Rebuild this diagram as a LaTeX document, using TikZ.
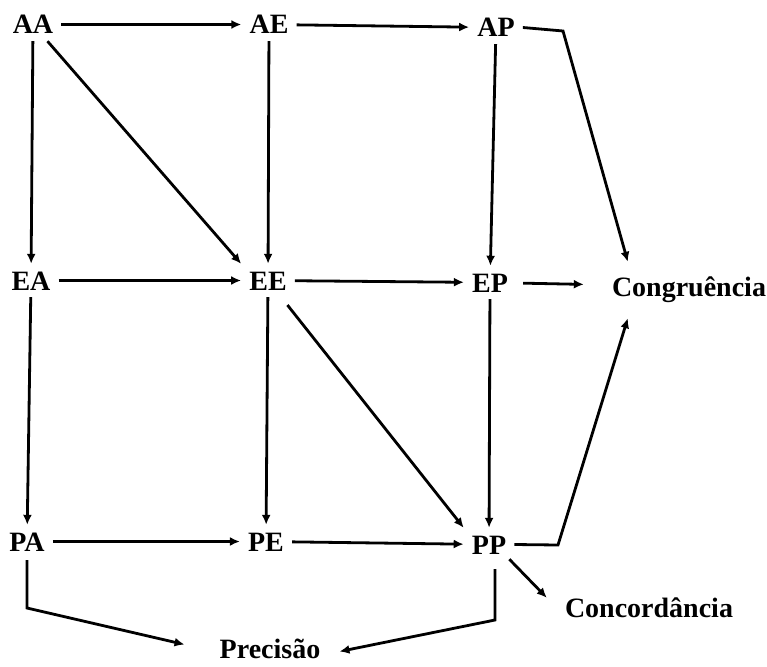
\documentclass[tikz,border=0pt]{standalone}
\usepackage{fontspec}
\setmainfont{Liberation Serif}
\usetikzlibrary{arrows.meta,calc}
\begin{document}
\begin{tikzpicture}[x=1pt,y=-1pt,
  lbl/.style={anchor=base,font=\bfseries\fontsize{28}{33}\selectfont,
    text height=19pt,text depth=0pt,inner xsep=8pt,inner ysep=7pt},
  conn/.style={line width=2.8pt,-{Latex[length=10pt,width=9pt]}}]
\useasboundingbox (0,0) rectangle (767,666);
\node[lbl] (AA) at (33,34) {AA};
\node[lbl] (AE) at (269,34) {AE};
\node[lbl] (AP) at (496,37) {AP};
\node[lbl] (EA) at (31,290) {EA};
\node[lbl] (EE) at (268,290) {EE};
\node[lbl] (EP) at (490,292) {EP};
\node[lbl] (Cg) at (689,296) {Congruência};
\node[lbl] (PA) at (27,551) {PA};
\node[lbl] (PE) at (266,551) {PE};
\node[lbl] (PP) at (489,554) {PP};
\node[lbl] (Cc) at (649,617) {Concordância};
\node[lbl] (Pr) at (270,658) {Precisão};
\coordinate (c1) at (563,31);
\coordinate (c2) at (558,545);
\coordinate (c3) at (495,620);
\coordinate (c4) at (27,608);
% row 1
\draw[conn] (AA) -- (AE);
\draw[conn] (AE) -- (AP);
% row 2
\draw[conn] (EA) -- (EE);
\draw[conn] (EE) -- (EP);
\draw[conn,shorten <=7pt,shorten >=20pt] (EP) -- (Cg);
% row 3
\draw[conn] (PA) -- (PE);
\draw[conn] (PE) -- (PP);
% verticals
\draw[conn] (AA) -- (EA);
\draw[conn] (EA) -- (PA);
\draw[conn] (AE) -- (EE);
\draw[conn] (EE) -- (PE);
\draw[conn] (AP) -- (EP);
\draw[conn] (EP) -- (PP);
% diagonals
\draw[conn] (AA) -- (EE.north west);
\draw[conn,shorten <=10pt] (EE) -- (PP.north west);
% to Congruencia
\draw[conn] (AP.east) -- (c1) -- ($(Cg.north west)+(24,-8)$);
\draw[conn] (PP.east) -- (c2) -- ($(Cg.south west)+(24,15)$);
% to Concordancia
\draw[conn] ($(PP.south east)+(-5,-2)$) -- ($(Cc.north west)+(-10,7)$);
% to Precisao
\draw[conn] ($(PP.south)+(6,8)$) -- (c3) -- ($(Pr.east)+(11,3)$);
\draw[conn] ($(PA.south)+(0,2)$) -- (c4) -- ($(Pr.west)+(-27,-4)$);
\end{tikzpicture}
\end{document}
